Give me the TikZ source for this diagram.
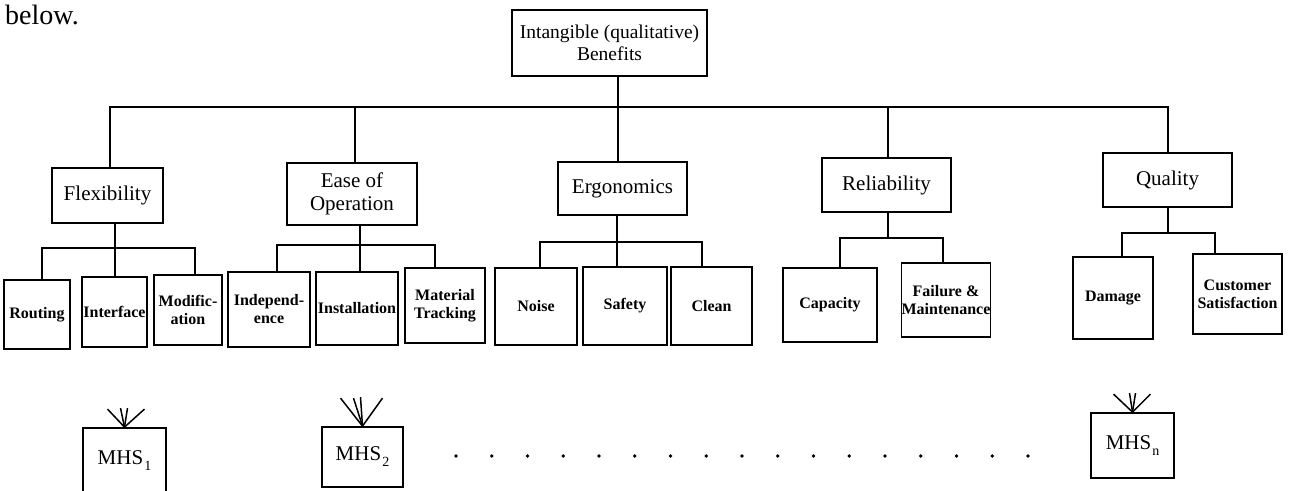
\documentclass[tikz,border=0pt]{standalone}
\usepackage{fontspec}
\setmainfont{Liberation Serif}
\begin{document}
\begin{tikzpicture}[x=1pt,y=-1pt,
  box/.style={draw, line width=1.8pt, inner sep=0pt, align=center},
  topbox/.style={box, font=\fontsize{19.5}{22}\selectfont},
  midbox/.style={box, font=\fontsize{21}{22.5}\selectfont},
  subbox/.style={box, font=\bfseries\fontsize{16}{18}\selectfont},
  mhsbox/.style={box, font=\fontsize{21}{22}\selectfont},
  conn/.style={line width=1.8pt},
  fan/.style={line width=1.5pt},
  dot/.style={fill=black}]
\useasboundingbox (0,0) rectangle (1290,490);

% fragment of surrounding text
\node[anchor=base west, inner sep=0pt, font=\fontsize{28}{28}\selectfont] (below) at (5,24) {below.};

% root
\node[topbox, minimum width=195pt, minimum height=66pt] (root) at (609.5,43) {Intangible (qualitative)\\Benefits};

% second level
\node[midbox, minimum width=111pt, minimum height=55pt] (flex) at (107.5,195.5) {Flexibility};
\node[midbox, minimum width=130pt, minimum height=62pt] (ease) at (352,194) {Ease of\\Operation};
\node[midbox, minimum width=129pt, minimum height=53pt] (ergo) at (622.5,188.5) {Ergonomics};
\node[midbox, minimum width=129pt, minimum height=54pt] (rel) at (886.5,185) {Reliability};
\node[midbox, minimum width=129pt, minimum height=54pt] (qual) at (1167.5,180) {Quality};

% third level
\node[subbox, minimum width=66pt, minimum height=69pt] (routing) at (37,314.5) {Routing};
\node[subbox, minimum width=65pt, minimum height=70pt] (interface) at (114.5,312) {Interface};
\node[subbox, minimum width=68pt, minimum height=70pt] (modif) at (188,310) {Modific-\\ation};
\node[subbox, minimum width=82pt, minimum height=75pt] (indep) at (269,309.5) {Independ-\\ence};
\node[subbox, minimum width=82pt, minimum height=73pt] (install) at (357,308.5) {Installation};
\node[subbox, minimum width=80pt, minimum height=75pt] (material) at (445,305.5) {Material\\Tracking};
\node[subbox, minimum width=82pt, minimum height=77pt] (noise) at (536,306.5) {Noise};
\node[subbox, minimum width=84pt, minimum height=78pt] (safety) at (625,306) {Safety};
\node[subbox, minimum width=81pt, minimum height=78pt] (clean) at (711.5,306) {Clean};
\node[subbox, minimum width=94pt, minimum height=74pt] (capacity) at (830,305) {Capacity};
\node[subbox, minimum width=88pt, minimum height=74pt] (failure) at (946,300) {Failure \&\\Maintenance};
\node[subbox, minimum width=80pt, minimum height=82pt] (damage) at (1113,298) {Damage};
\node[subbox, minimum width=89pt, minimum height=80pt] (customer) at (1237.5,294) {Customer\\Satisfaction};

% alternatives
\node[mhsbox, minimum width=83pt, minimum height=66pt] (mhs1) at (124.5,461) {MHS\kern1pt\raisebox{-6pt}{\fontsize{14}{14}\selectfont 1}};
\node[mhsbox, minimum width=81pt, minimum height=60pt] (mhs2) at (362.5,457) {MHS\kern1pt\raisebox{-6pt}{\fontsize{14}{14}\selectfont 2}};
\node[mhsbox, minimum width=83pt, minimum height=65pt] (mhsn) at (1132.5,445.5) {MHS\kern1pt\raisebox{-6pt}{\fontsize{14}{14}\selectfont n}};

% main bus
\coordinate (bF) at (110,107);
\coordinate (bE) at (355,107);
\coordinate (bG) at (618,107);
\coordinate (bR) at (888,107);
\coordinate (bQ) at (1168,107);
\draw[conn] (root.south -| bG) -- (bG);
\draw[conn] (flex.north -| bF) -- (bF) -- (bQ) -- (qual.north -| bQ);
\draw[conn] (bE) -- (ease.north -| bE);
\draw[conn] (bG) -- (ergo.north -| bG);
\draw[conn] (bR) -- (rel.north -| bR);

% sub buses
\coordinate (sF) at (115,248);
\draw[conn] ([xshift=5pt]routing.north) |- (sF) -| ([xshift=7pt]modif.north);
\draw[conn] (flex.south -| sF) -- (interface.north -| sF);

\coordinate (sE) at (360,245);
\draw[conn] ([xshift=8pt]indep.north) |- (sE) -| ([xshift=-10pt]material.north);
\draw[conn] (ease.south -| sE) -- (install.north -| sE);

\coordinate (sG) at (617,242);
\draw[conn] ([xshift=4pt]noise.north) |- (sG) -| ([xshift=-9.5pt]clean.north);
\draw[conn] (ergo.south -| sG) -- (safety.north -| sG);

\coordinate (sR) at (888,238);
\draw[conn] ([xshift=10pt]capacity.north) |- (sR) -| ([xshift=-3pt]failure.north);
\draw[conn] (rel.south -| sR) -- (sR);

\coordinate (sQ) at (1168,233);
\draw[conn] ([xshift=9pt]damage.north) |- (sQ) -| ([xshift=-22.5pt]customer.north);
\draw[conn] (qual.south -| sQ) -- (sQ);

% incoming fans
\draw[fan] (mhs1.north) -- ++(-17,-18);
\draw[fan] (mhs1.north) -- ++(-4,-19);
\draw[fan] (mhs1.north) -- ++(3,-19);
\draw[fan] (mhs1.north) -- ++(20,-18);

\draw[fan] (mhs2.north) -- ++(-22,-28);
\draw[fan] (mhs2.north) -- ++(-9,-28);
\draw[fan] (mhs2.north) -- ++(-2,-29);
\draw[fan] (mhs2.north) -- ++(20,-28);

\draw[fan] (mhsn.north) -- ++(-19,-18);
\draw[fan] (mhsn.north) -- ++(-3,-19);
\draw[fan] (mhsn.north) -- ++(3,-19);
\draw[fan] (mhsn.north) -- ++(18,-18);

% dots
\foreach \i in {0,...,16} \fill[dot] ({456+35.75*\i},456) circle (1.8pt);
\end{tikzpicture}
\end{document}
